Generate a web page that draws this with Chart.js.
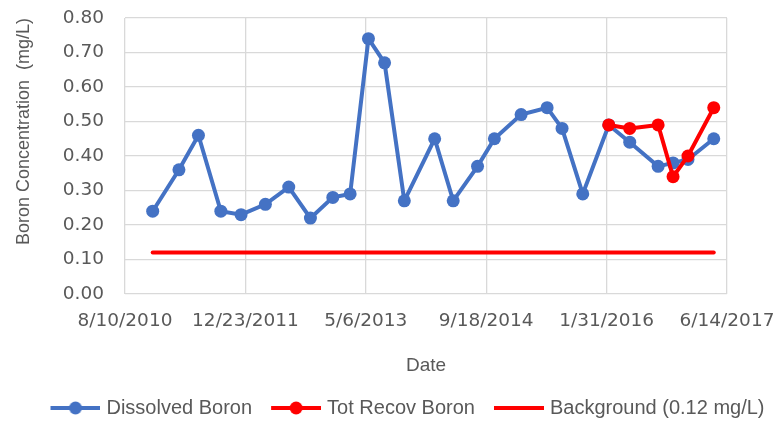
<!DOCTYPE html>
<html>
<head>
<meta charset="utf-8">
<script src="https://cdn.jsdelivr.net/npm/chart.js@4"></script>
<style>
  html, body { margin: 0; padding: 0; background: #fff; }
  #wrap { width: 778px; height: 424px; }
</style>
</head>
<body>
<div id="wrap"><canvas id="boron-chart"></canvas></div>
<script>
// Sample dates and values
const startDate = '2010-08-10';
const dissolvedDates = [
  '2010-12-03', '2011-03-22', '2011-06-11', '2011-09-12', '2011-12-05', '2012-03-15',
  '2012-06-20', '2012-09-18', '2012-12-20', '2013-03-02', '2013-05-17', '2013-07-23',
  '2013-10-13', '2014-02-16', '2014-05-04', '2014-08-13', '2014-10-22', '2015-02-10',
  '2015-05-29', '2015-07-30', '2015-10-24', '2016-02-09', '2016-05-06', '2016-09-01',
  '2016-11-02', '2017-01-03', '2017-04-20',
];
const dissolvedBoron = [
  0.24, 0.36, 0.46, 0.24, 0.23, 0.26,
  0.31, 0.22, 0.28, 0.29, 0.74, 0.67,
  0.27, 0.45, 0.27, 0.37, 0.45, 0.52,
  0.54, 0.48, 0.29, 0.49, 0.44, 0.37,
  0.38, 0.39, 0.45,
];
const totRecovDates = ['2016-02-09', '2016-05-06', '2016-09-01', '2016-11-02', '2017-01-03', '2017-04-20'];
const totRecovBoron = [0.49, 0.48, 0.49, 0.34, 0.40, 0.54];
const backgroundDates = ['2010-12-03', '2017-04-20'];
const backgroundLevel = [0.12, 0.12];

const xTickDays = [0, 500, 1000, 1500, 2000, 2500];
const yTicks = [0, 0.1, 0.2, 0.3, 0.4, 0.5, 0.6, 0.7, 0.8];

const BLUE = '#4472c4';
const RED = '#ff0000';
const GREY = '#595959';
const GRID = '#d9d9d9';

const dayOf = (s) => (Date.parse(s) - Date.parse(startDate)) / 86400000;
const toPoints = (dates, vals) => dates.map((d, i) => ({ x: dayOf(d), y: vals[i] }));
const fmtDay = (v) => {
  const d = new Date(Date.parse(startDate) + v * 86400000);
  return `${d.getUTCMonth() + 1}/${d.getUTCDate()}/${d.getUTCFullYear()}`;
};

// legend pictures: line + marker. The box is 59 wide, the picture 67 wide
// (centred, so it pokes 4px out each side); the line sits on the right 50px.
const legendIcon = (color, marker) => {
  const c = document.createElement('canvas');
  c.width = 67;
  c.height = 14;
  const g = c.getContext('2d');
  g.strokeStyle = color;
  g.lineWidth = 4;
  g.beginPath();
  g.moveTo(17, 7);
  g.lineTo(67, 7);
  g.stroke();
  if (marker) {
    g.fillStyle = color;
    g.beginPath();
    g.arc(42, 7, 6.5, 0, Math.PI * 2);
    g.fill();
  }
  return c;
};
const icons = [legendIcon(BLUE, true), legendIcon(RED, true), legendIcon(RED, false)];

// nudge the legend row right and down a little, like the reference
const legendShift = {
  id: 'legendShift',
  afterLayout(c) {
    c.legend.left += 12;
    c.legend.right += 12;
    c.legend.top += 4;
    c.legend.bottom += 4;
  },
};

const ctx = document.getElementById('boron-chart');
const chart = new Chart(ctx, {
  type: 'line',
  data: {
    datasets: [
      {
        label: 'Dissolved Boron',
        data: toPoints(dissolvedDates, dissolvedBoron),
        borderColor: BLUE,
        backgroundColor: BLUE,
        borderWidth: 4,
        pointRadius: 6.5,
        pointBorderWidth: 0,
        order: 1,
      },
      {
        label: 'Tot Recov Boron',
        data: toPoints(totRecovDates, totRecovBoron),
        borderColor: RED,
        backgroundColor: RED,
        borderWidth: 4,
        pointRadius: 6.5,
        pointBorderWidth: 0,
        order: 0,
      },
      {
        label: 'Background (0.12 mg/L)',
        data: toPoints(backgroundDates, backgroundLevel),
        borderColor: RED,
        backgroundColor: RED,
        borderWidth: 4,
        borderCapStyle: 'round',
        pointRadius: 0,
        order: 2,
      },
    ],
  },
  options: {
    responsive: true,
    maintainAspectRatio: false,
    animation: false,
    layout: {
      padding: { top: 18, right: 0, bottom: 0, left: 0 },
    },
    scales: {
      x: {
        type: 'linear',
        min: 0,
        max: 2500,
        afterBuildTicks: (scale) => {
          scale.ticks = xTickDays.map((v) => ({ value: v }));
        },
        afterFit: (scale) => {
          scale.paddingLeft = 0;
          scale.paddingRight = 51; // room on the right, outside the plot
          scale.height = 94;
        },
        grid: { color: GRID, lineWidth: 1.3, drawTicks: false },
        border: { display: false },
        ticks: {
          color: GREY,
          font: { family: 'DejaVu Sans', size: 18.5 },
          padding: 16,
          maxRotation: 0,
          autoSkip: false,
          callback: (v) => fmtDay(v),
        },
        title: {
          display: true,
          text: 'Date',
          color: GREY,
          font: { family: 'Liberation Sans', size: 19 },
          padding: { top: 0, bottom: 10.5 },
        },
      },
      y: {
        min: 0,
        max: 0.8,
        afterBuildTicks: (scale) => {
          scale.ticks = yTicks.map((v) => ({ value: v }));
        },
        afterFit: (scale) => {
          scale.width = 125;
          scale.paddingTop = 0;
          scale.paddingBottom = 0;
        },
        grid: { color: GRID, lineWidth: 1.3, drawTicks: false },
        border: { display: false },
        ticks: {
          color: GREY,
          font: { family: 'DejaVu Sans', size: 18.5 },
          padding: 21,
          callback: (v) => v.toFixed(2),
        },
        title: {
          display: true,
          text: 'Boron Concentration  (mg/L)',
          align: 'end',
          color: GREY,
          font: { family: 'Liberation Sans', size: 18 },
          padding: { top: 13, bottom: 0 },
        },
      },
    },
    plugins: {
      legend: {
        position: 'bottom',
        labels: {
          color: GREY,
          font: { family: 'Liberation Sans', size: 20 },
          usePointStyle: true,
          pointStyleWidth: 59,
          padding: 6,
          generateLabels: (c) =>
            c.data.datasets.map((ds, i) => ({
              text: ds.label,
              fillStyle: ds.borderColor,
              strokeStyle: ds.borderColor,
              fontColor: GREY,
              lineWidth: 0,
              pointStyle: icons[i],
              hidden: !c.isDatasetVisible(i),
              datasetIndex: i,
            })),
        },
      },
      tooltip: { enabled: false },
    },
  },
  plugins: [legendShift],
});
</script>
</body>
</html>
